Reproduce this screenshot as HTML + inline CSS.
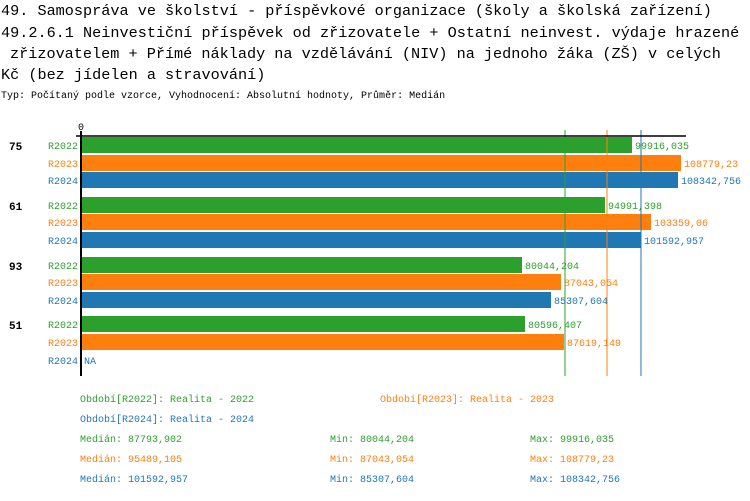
<!DOCTYPE html>
<html><head><meta charset="utf-8"><style>
body{margin:0;background:#fff;width:750px;height:496px;overflow:hidden;font-family:"Liberation Mono",monospace}
svg text{font-family:"Liberation Mono",monospace}
</style></head><body>
<svg width="750" height="496" xmlns="http://www.w3.org/2000/svg">
<g font-size="15.2" fill="#000">
<text x="1" y="15">49. Samospráva ve školství - příspěvkové organizace (školy a školská zařízení)</text>
<text x="1" y="37">49.2.6.1 Neinvestiční příspěvek od zřizovatele + Ostatní neinvest. výdaje hrazené</text>
<text x="10" y="58">zřizovatelem + Přímé náklady na vzdělávání (NIV) na jednoho žáka (ZŠ)  v celých</text>
<text x="1" y="79">Kč (bez jídelen a stravování)</text>
</g>
<text x="1" y="98" font-size="10">Typ: Počítaný podle vzorce, Vyhodnocení: Absolutní hodnoty, Průměr: Medián</text>
<text x="78" y="130" font-size="10">0</text>
<g>
<rect x="81" y="137" width="551" height="16" fill="#2ca02c"/>
<rect x="81" y="155" width="600" height="16" fill="#ff7f0e"/>
<rect x="81" y="172" width="597" height="16" fill="#1f77b4"/>
<rect x="81" y="197" width="524" height="16" fill="#2ca02c"/>
<rect x="81" y="214" width="570" height="16" fill="#ff7f0e"/>
<rect x="81" y="232" width="560" height="16" fill="#1f77b4"/>
<rect x="81" y="257" width="441" height="16" fill="#2ca02c"/>
<rect x="81" y="274" width="480" height="16" fill="#ff7f0e"/>
<rect x="81" y="292" width="470" height="16" fill="#1f77b4"/>
<rect x="81" y="316" width="444" height="16" fill="#2ca02c"/>
<rect x="81" y="334" width="483" height="16" fill="#ff7f0e"/>
</g>
<line x1="565" y1="130" x2="565" y2="376" stroke="#2ca02c"/>
<line x1="607" y1="130" x2="607" y2="376" stroke="#ff7f0e"/>
<line x1="641" y1="130" x2="641" y2="376" stroke="#1f77b4"/>
<line x1="76" y1="136" x2="686" y2="136" stroke="#000" stroke-width="1.5"/>
<line x1="81" y1="131" x2="81" y2="376" stroke="#000" stroke-width="2"/>
<g font-size="11" font-weight="bold">
<text x="9" y="150">75</text><text x="9" y="210">61</text><text x="9" y="270">93</text><text x="9" y="329">51</text>
</g>
<g font-size="10" text-anchor="end">
<text x="78" y="149" fill="#2ca02c">R2022</text><text x="78" y="167" fill="#ff7f0e">R2023</text><text x="78" y="184" fill="#1f77b4">R2024</text>
<text x="78" y="209" fill="#2ca02c">R2022</text><text x="78" y="226" fill="#ff7f0e">R2023</text><text x="78" y="244" fill="#1f77b4">R2024</text>
<text x="78" y="269" fill="#2ca02c">R2022</text><text x="78" y="286" fill="#ff7f0e">R2023</text><text x="78" y="304" fill="#1f77b4">R2024</text>
<text x="78" y="328" fill="#2ca02c">R2022</text><text x="78" y="346" fill="#ff7f0e">R2023</text><text x="78" y="364" fill="#1f77b4">R2024</text>
</g>
<g font-size="10">
<text x="635" y="149" fill="#2ca02c">99916,035</text>
<text x="684" y="167" fill="#ff7f0e">108779,23</text>
<text x="681" y="184" fill="#1f77b4">108342,756</text>
<text x="608" y="209" fill="#2ca02c">94991,398</text>
<text x="654" y="226" fill="#ff7f0e">103359,06</text>
<text x="644" y="244" fill="#1f77b4">101592,957</text>
<text x="525" y="269" fill="#2ca02c">80044,204</text>
<text x="564" y="286" fill="#ff7f0e">87043,054</text>
<text x="554" y="304" fill="#1f77b4">85307,604</text>
<text x="528" y="328" fill="#2ca02c">80596,407</text>
<text x="567" y="346" fill="#ff7f0e">87619,149</text>
<text x="84" y="364" fill="#1f77b4">NA</text>
<text x="80" y="402" fill="#2ca02c">Období[R2022]: Realita - 2022</text>
<text x="380" y="402" fill="#ff7f0e">Období[R2023]: Realita - 2023</text>
<text x="80" y="422" fill="#1f77b4">Období[R2024]: Realita - 2024</text>
<text x="80" y="442" fill="#2ca02c">Medián: 87793,902</text>
<text x="330" y="442" fill="#2ca02c">Min: 80044,204</text>
<text x="530" y="442" fill="#2ca02c">Max: 99916,035</text>
<text x="80" y="462" fill="#ff7f0e">Medián: 95489,105</text>
<text x="330" y="462" fill="#ff7f0e">Min: 87043,054</text>
<text x="530" y="462" fill="#ff7f0e">Max: 108779,23</text>
<text x="80" y="482" fill="#1f77b4">Medián: 101592,957</text>
<text x="330" y="482" fill="#1f77b4">Min: 85307,604</text>
<text x="530" y="482" fill="#1f77b4">Max: 108342,756</text>
</g>
</svg>
</body></html>
